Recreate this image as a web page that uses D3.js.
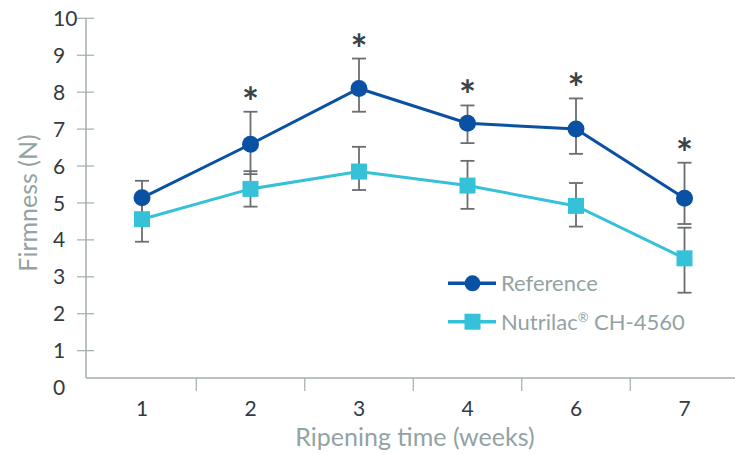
<!DOCTYPE html>
<html>
<head>
<meta charset="utf-8">
<script src="https://cdn.jsdelivr.net/npm/d3@7"></script>
<style>
  html, body { margin: 0; padding: 0; background: #ffffff; }
  svg { display: block; }
  text { font-family: Lato, "Open Sans", sans-serif; }
</style>
</head>
<body>
<svg id="chart" width="735" height="455"></svg>
<script>
// Ripening weeks on the category axis
const weeks = ["1", "2", "3", "4", "6", "7"];

// Firmness (N): mean and whisker bounds for each series
const refMean = [5.14, 6.59, 8.10, 7.16, 7.00, 5.13];
const refLow  = [4.68, 5.78, 7.47, 6.62, 6.33, 4.43];
const refHigh = [5.60, 7.47, 8.91, 7.64, 7.83, 6.09];

const nutMean = [4.56, 5.38, 5.85, 5.47, 4.92, 3.50];
const nutLow  = [3.95, 4.90, 5.35, 4.84, 4.36, 2.57];
const nutHigh = [5.17, 5.86, 6.52, 6.14, 5.54, 4.33];

// Weeks with a significant difference (marked with an asterisk)
const significant = [false, true, true, true, true, true];

const yTicks = [0, 1, 2, 3, 4, 5, 6, 7, 8, 9, 10];
const seriesNames = ["Reference", "Nutrilac"];
const productSuffix = " CH-4560";

const COLORS = { ref: "#0a50a3", nut: "#35c2d8", axis: "#a3adad", err: "#6a6e70",
                 tickText: "#333b3f", title: "#93a3a3", star: "#3a4347" };

const svg = d3.select("#chart");

const y = d3.scaleLinear().domain([0, 10]).range([387.6, 18.3]);
const x = d3.scalePoint().domain(weeks).range([142, 684.5]);

const axisY = 378;
const axisX = 86;

// ---- y axis ----
svg.append("line")
  .attr("x1", axisX).attr("x2", axisX)
  .attr("y1", y(10)).attr("y2", axisY)
  .attr("stroke", COLORS.axis).attr("stroke-width", 1.5);

const yG = svg.append("g");
yG.selectAll("line.tick").data(yTicks.filter(d => d > 0)).join("line")
  .attr("x1", 77).attr("x2", 94)
  .attr("y1", d => y(d)).attr("y2", d => y(d))
  .attr("stroke", COLORS.axis).attr("stroke-width", 1.2);
yG.selectAll("text").data(yTicks).join("text")
  .attr("x", 53).attr("y", d => y(d))
  .attr("dy", "0.36em")
  .attr("font-size", 21)
  .attr("fill", COLORS.tickText)
  .text(d => d);

svg.append("text")
  .attr("transform", `translate(37, ${y(5)}) rotate(-90)`)
  .attr("text-anchor", "middle")
  .attr("font-size", 25)
  .attr("fill", COLORS.title)
  .text("Firmness (N)");

// ---- x axis ----
svg.append("line")
  .attr("x1", axisX).attr("x2", 735)
  .attr("y1", axisY).attr("y2", axisY)
  .attr("stroke", COLORS.axis).attr("stroke-width", 1.5);

// tick marks sit halfway between neighbouring weeks
const between = d3.pairs(weeks).map(([a, b]) => (x(a) + x(b)) / 2);
svg.append("g").selectAll("line").data(between).join("line")
  .attr("x1", d => d).attr("x2", d => d)
  .attr("y1", axisY).attr("y2", 391)
  .attr("stroke", COLORS.axis).attr("stroke-width", 1.2);

svg.append("g").selectAll("text").data(weeks).join("text")
  .attr("x", d => x(d))
  .attr("y", 416)
  .attr("text-anchor", "middle")
  .attr("font-size", 21)
  .attr("fill", COLORS.tickText)
  .text(d => d);

svg.append("text")
  .attr("x", 415).attr("y", 446)
  .attr("text-anchor", "middle")
  .attr("font-size", 25)
  .attr("fill", COLORS.title)
  .text("Ripening time (weeks)");

// ---- series ----
const refData = weeks.map((w, i) => ({ w, m: refMean[i], lo: refLow[i], hi: refHigh[i], sig: significant[i] }));
const nutData = weeks.map((w, i) => ({ w, m: nutMean[i], lo: nutLow[i], hi: nutHigh[i] }));

const line = d3.line().x(d => x(d.w)).y(d => y(d.m));

svg.append("path").datum(nutData)
  .attr("d", line).attr("fill", "none")
  .attr("stroke", COLORS.nut).attr("stroke-width", 3);
svg.append("path").datum(refData)
  .attr("d", line).attr("fill", "none")
  .attr("stroke", COLORS.ref).attr("stroke-width", 3);

function errorBars(data) {
  const g = svg.append("g").attr("stroke", COLORS.err).attr("stroke-width", 1.8);
  data.forEach(d => {
    const cx = x(d.w);
    g.append("line").attr("x1", cx).attr("x2", cx).attr("y1", y(d.hi)).attr("y2", y(d.lo));
    g.append("line").attr("x1", cx - 7).attr("x2", cx + 7).attr("y1", y(d.hi)).attr("y2", y(d.hi));
    g.append("line").attr("x1", cx - 7).attr("x2", cx + 7).attr("y1", y(d.lo)).attr("y2", y(d.lo));
  });
}
errorBars(nutData);
errorBars(refData);

svg.append("g").selectAll("rect").data(nutData).join("rect")
  .attr("x", d => x(d.w) - 8).attr("y", d => y(d.m) - 8)
  .attr("width", 16).attr("height", 16)
  .attr("fill", COLORS.nut);

svg.append("g").selectAll("circle").data(refData).join("circle")
  .attr("cx", d => x(d.w)).attr("cy", d => y(d.m))
  .attr("r", 8.5)
  .attr("fill", COLORS.ref);

// significance marks above the upper whisker
svg.append("g").selectAll("text").data(refData.filter(d => d.sig)).join("text")
  .attr("x", d => x(d.w))
  .attr("y", d => y(d.hi) + 5)
  .attr("text-anchor", "middle")
  .attr("font-size", 40)
  .attr("font-weight", "bold")
  .attr("font-family", "'DejaVu Sans', sans-serif")
  .attr("fill", COLORS.star)
  .text("*");

// ---- legend ----
const legend = svg.append("g");
const rows = [
  { name: seriesNames[0], color: COLORS.ref, shape: "circle", cy: 283.3 },
  { name: seriesNames[1], color: COLORS.nut, shape: "square", cy: 321.7, mark: true }
];
rows.forEach(r => {
  legend.append("line")
    .attr("x1", 448).attr("x2", 496)
    .attr("y1", r.cy).attr("y2", r.cy)
    .attr("stroke", r.color).attr("stroke-width", 3.5);
  if (r.shape === "circle") {
    legend.append("circle").attr("cx", 472.5).attr("cy", r.cy).attr("r", 8).attr("fill", r.color);
  } else {
    legend.append("rect").attr("x", 464.5).attr("y", r.cy - 8).attr("width", 16).attr("height", 16).attr("fill", r.color);
  }
  const t = legend.append("text")
    .attr("x", 501).attr("y", r.cy + 8)
    .attr("font-size", 22)
    .attr("fill", COLORS.title);
  t.append("tspan").text(r.name);
  if (r.mark) {
    t.append("tspan").attr("font-size", 13).attr("dy", -8).text("\u00AE");
    t.append("tspan").attr("dy", 8).text(productSuffix);
  }
});
</script>
</body>
</html>
